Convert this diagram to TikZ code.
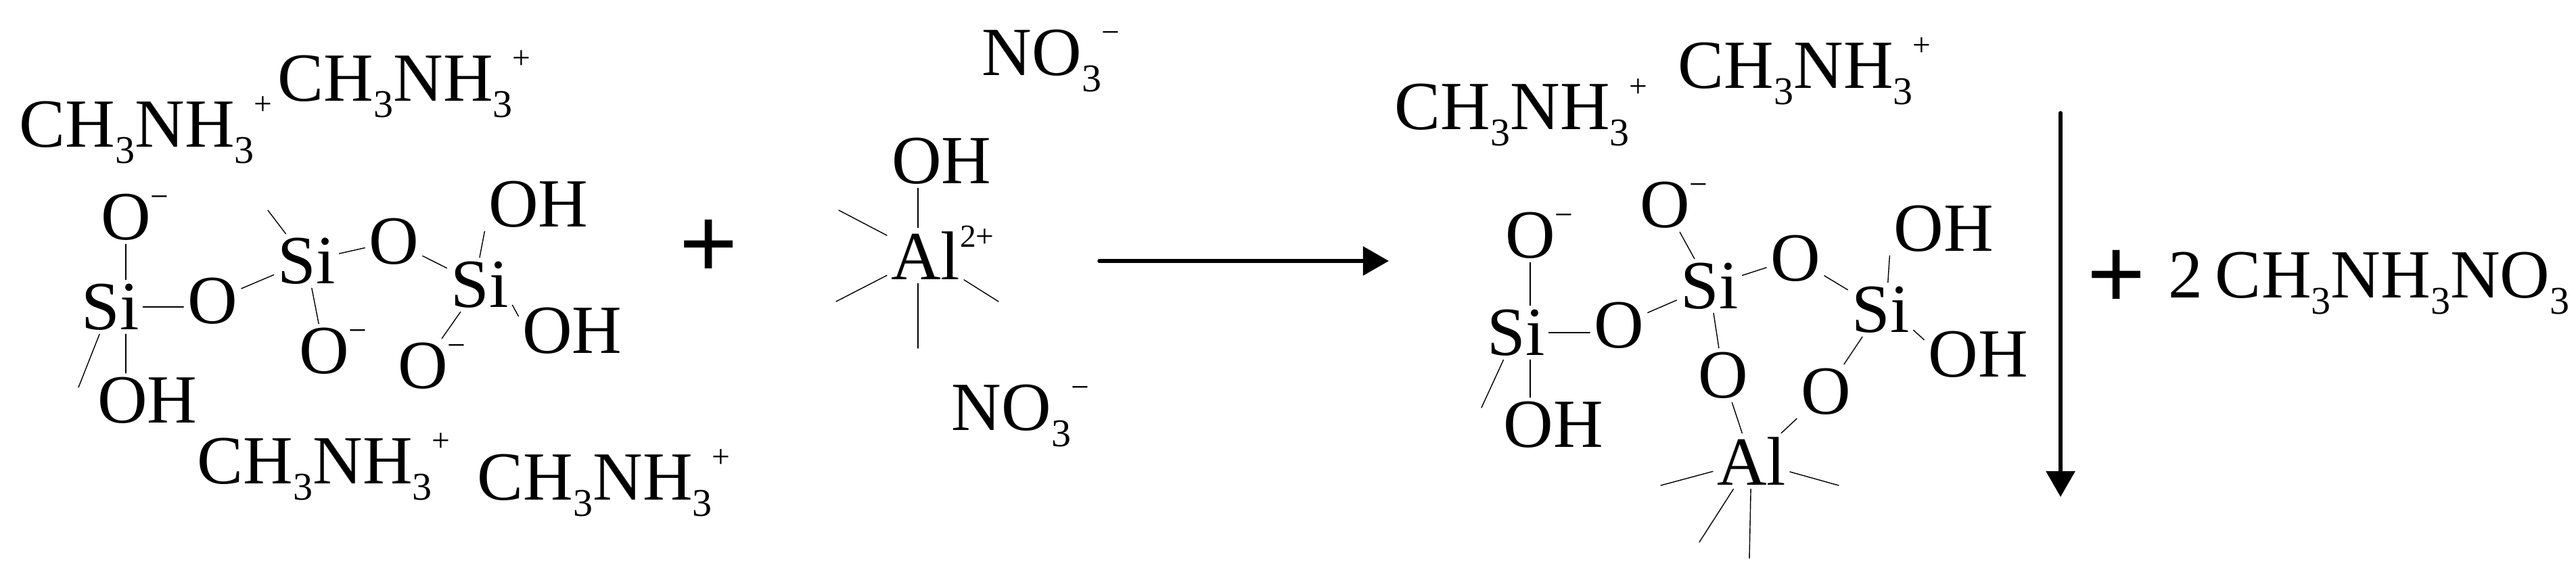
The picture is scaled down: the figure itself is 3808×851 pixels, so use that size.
\documentclass[tikz,border=0pt]{standalone}
\usepackage{fontspec}
\setmainfont{Liberation Serif}
\setsansfont{Liberation Sans}
\usetikzlibrary{arrows.meta}
\newcommand{\sbs}[1]{\raisebox{-0.24em}{\fontsize{16.5}{17}\selectfont #1}}
\newcommand{\sps}[1]{\raisebox{0.47em}{\fontsize{13.5}{14}\selectfont #1}}
\newcommand{\mea}{CH\sbs{3}NH\sbs{3}\sps{+}}
\newcommand{\nit}{NO\sbs{3}\sps{−}}
\newcommand{\oneg}{O\rlap{\smash{\sps{−}}}}
\begin{document}
\begin{tikzpicture}[x=0.01cm, y=-0.01cm, line cap=round, line join=round, font=\fontsize{29}{35}\selectfont, >={Stealth[length=0.38cm, width=0.42cm, inset=0pt]}]
	\tikzset{atom/.style={inner sep=1.5pt}, ion/.style={anchor=base west, inner sep=0pt}, bond/.style={line width=0.4pt}, rxn/.style={->, line width=1.6pt}, plus/.style={inner sep=0pt, font=\fontsize{42}{42}\sffamily\selectfont}}
	\useasboundingbox (0,0) rectangle (3808,851);
	% cations and nitrate
	\node[ion] (me1) at (28,217) {\mea};
	\node[ion] (me2) at (410,149) {\mea};
	\node[ion] (me3) at (291,715) {\mea};
	\node[ion] (me4) at (705,739) {\mea};
	\node[ion] (no1) at (1451,111) {\nit};
	\node[ion] (no2) at (1406,636) {\nit};
	\node[ion] (me5) at (2061,191) {\mea};
	\node[ion] (me6) at (2480,130) {\mea};
	% silicate chain
	\node[atom] (ao1) at (186,321) {\oneg};
	\node[atom] (asi1) at (163,454) {Si};
	\node[atom] (ao2) at (314,445) {O};
	\node[atom] (asi2) at (453,386) {Si};
	\node[atom] (ao3) at (582,357) {O};
	\node[atom] (asi3) at (709,421) {Si};
	\node[atom] (aoh1) at (796,302) {OH};
	\node[atom] (aoh2) at (846,489) {OH};
	\node[atom] (ao4) at (479,519) {\oneg};
	\node[atom] (ao5) at (625,541) {\oneg};
	\node[atom] (aoh3) at (218,592) {OH};
	\coordinate (as1) at (116,573);
	\coordinate (as2) at (396,311);
	\draw[bond] (ao1.south) -- (ao1.south |- asi1.north);
	\draw[bond] (ao1.south |- asi1.south) -- (ao1.south |- aoh3.north);
	\draw[bond] (asi1.east) -- (asi1.east -| ao2.west);
	\foreach \a/\b in {ao2/asi2, asi2/ao3, ao3/asi3, asi3/ao5, asi2/ao4, asi1/as1, asi2/as2}
		\draw[bond] (\a) -- (\b);
	\draw[bond] (asi3.north) -- (aoh1.south west);
	\draw[bond] (asi3.-32) -- (aoh2.165);
	\node[plus] (pl1) at (1048,368) {+};
	% aluminium complex
	\node[atom] (boh) at (1392,238) {OH};
	\node[atom] (bal) at (1368,378) {Al\rlap{\smash{\sps{2+}}}};
	\coordinate (b1) at (1240,311);
	\coordinate (b2) at (1236,446);
	\coordinate (b3) at (1476,446);
	\coordinate (b4) at (1357,515);
	\draw[bond] (b4 |- boh.south) -- (b4 |- bal.north);
	\foreach \b in {b1, b2, b3}
		\draw[bond] (bal) -- (\b);
	\draw[bond] (b4 |- bal.south) -- (b4);
	% arrow
	\coordinate (r1) at (1625,386);
	\coordinate (r2) at (2053,386);
	\draw[rxn] (r1) -- (r2);
	% product
	\node[atom] (co1) at (2262,348) {\oneg};
	\node[atom] (csi1) at (2241,492) {Si};
	\node[atom] (co2) at (2393,481) {O};
	\node[atom] (csi2) at (2527,423) {Si};
	\node[atom] (co3) at (2461,303) {\oneg};
	\node[atom] (co4) at (2654,382) {O};
	\node[atom] (csi3) at (2780,458) {Si};
	\node[atom] (coh1) at (2873,338) {OH};
	\node[atom] (coh2) at (2924,524) {OH};
	\node[atom] (co5) at (2547,555) {O};
	\node[atom] (co6) at (2699,579) {O};
	\node[atom] (coh3) at (2296,628) {OH};
	\node[atom] (cal) at (2589,682) {Al};
	\coordinate (c1) at (2190,603);
	\coordinate (c2) at (2455,718);
	\coordinate (c3) at (2718,718);
	\coordinate (c4) at (2512,802);
	\coordinate (c5) at (2586,826);
	\draw[bond] (co1.south) -- (co1.south |- csi1.north);
	\draw[bond] (co1.south |- csi1.south) -- (co1.south |- coh3.north);
	\draw[bond] (csi1.east) -- (csi1.east -| co2.west);
	\foreach \a/\b in {co2/csi2, csi2/co3, csi2/co4, co4/csi3, csi3/co6, csi2/co5, co5/cal, co6/cal, csi1/c1, cal/c2, cal/c3, cal/c4, cal/c5}
		\draw[bond] (\a) -- (\b);
	\draw[bond] (csi3.75) -- (coh1.south west);
	\draw[bond] (csi3.-32) -- (coh2.165);
	% side product
	\coordinate (d1) at (3046,167);
	\coordinate (d2) at (3046,735);
	\draw[rxn] (d1) -- (d2);
	\node[plus] (pl2) at (3129,413) {+};
	\node[ion] (prod) at (3205,440) {2\kern0.18em CH\sbs{3}NH\sbs{3}NO\sbs{3}};
\end{tikzpicture}
\end{document}
